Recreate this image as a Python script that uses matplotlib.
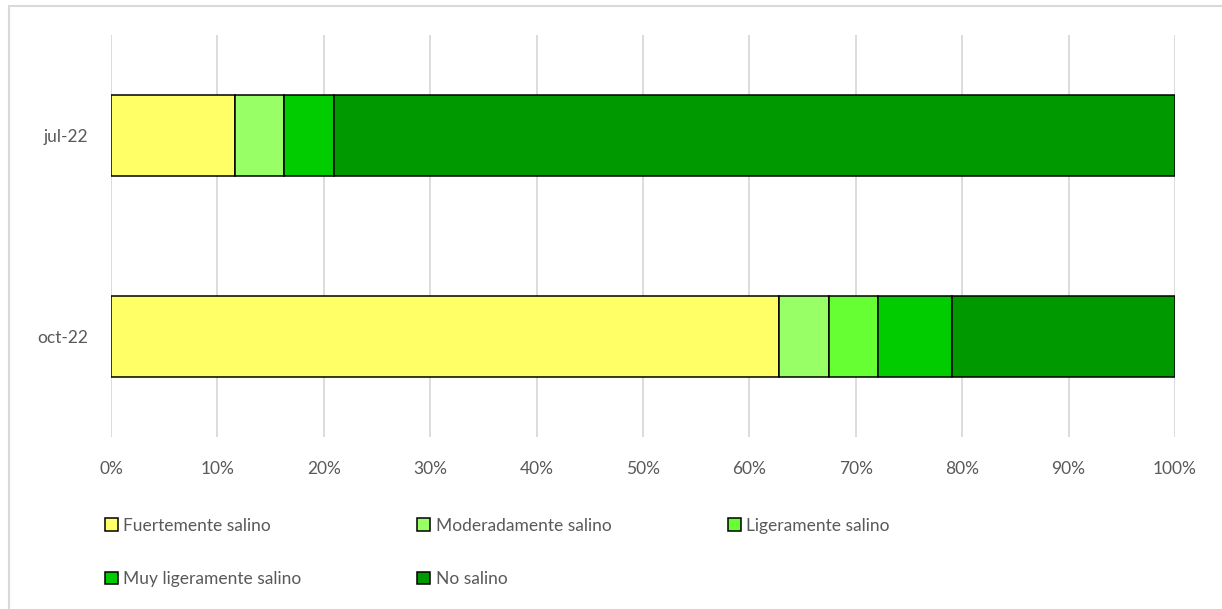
import matplotlib.pyplot as plt
import numpy as np
from matplotlib.patches import Rectangle
from matplotlib.ticker import PercentFormatter

plt.rcParams['font.family'] = ['Lato', 'DejaVu Sans']

# sample counts per salinity class (43 samples per campaign)
fechas = ["oct-22", "jul-22"]
clases = ["Fuertemente salino", "Moderadamente salino", "Ligeramente salino",
          "Muy ligeramente salino", "No salino"]
conteos = {
    "oct-22": [27, 2, 2, 3, 9],
    "jul-22": [5, 2, 0, 2, 34],
}
colores = ["#FFFF66", "#99FF66", "#66FF33", "#00CC00", "#009900"]

datos = np.array([conteos[f] for f in fechas], dtype=float)
porcentajes = datos / datos.sum(axis=1, keepdims=True) * 100

fig = plt.figure(figsize=(12.22, 6.09), dpi=100)
ax = fig.add_axes([111 / 1222, 1 - 437 / 609, 1064 / 1222, 402 / 609])

y = np.arange(len(fechas))
izq = np.zeros(len(fechas))
barras = []
for i, clase in enumerate(clases):
    b = ax.barh(y, porcentajes[:, i], left=izq, height=0.4, color=colores[i],
                edgecolor="black", linewidth=1.1, label=clase, zorder=3)
    barras.append(b)
    izq += porcentajes[:, i]

ax.set_xlim(0, 100)
ax.set_ylim(-0.5, 1.5)
ax.set_xticks(np.arange(0, 101, 10))
ax.xaxis.set_major_formatter(PercentFormatter(decimals=0))
ax.set_yticks(y)
ax.set_yticklabels(fechas)
ax.grid(axis="x", color="#d9d9d9", linewidth=1.3, zorder=0)
ax.tick_params(length=0, labelsize=12.5, labelcolor="#595959")
ax.tick_params(axis="y", pad=16.5)
ax.tick_params(axis="x", pad=17.5)
for s in ax.spines.values():
    s.set_visible(False)

# legend is filled column-wise, so reorder to read row by row
orden = [0, 3, 1, 4, 2]
leg = fig.legend([barras[k] for k in orden], [clases[k] for k in orden],
                 ncol=3, loc="upper left", bbox_to_anchor=(89 / 1222, 1 - 502 / 609),
                 frameon=False, fontsize=12.5, labelcolor="#595959",
                 handlelength=0.75, handleheight=0.75, handletextpad=0.3,
                 columnspacing=6.7, labelspacing=2.15)

# light outer frame around the chart area
fig.patches.append(Rectangle((9 / 1222, -0.02), 1.1, 1 - 6 / 609 + 0.02,
                             transform=fig.transFigure, fill=False,
                             edgecolor="#d9d9d9", linewidth=1.5))

fig.savefig("out.png", dpi=100)
